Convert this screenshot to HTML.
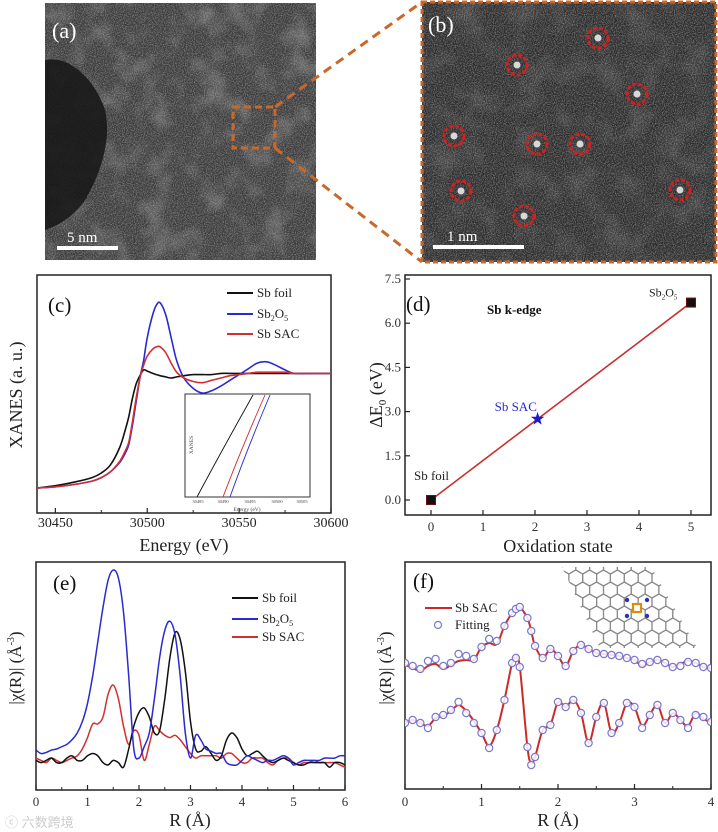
<!DOCTYPE html>
<html><head><meta charset="utf-8">
<style>
html,body{margin:0;padding:0;background:#fff;}
svg{display:block;font-family:"Liberation Serif",serif;}
</style></head>
<body>
<svg id="fig" width="718" height="832" viewBox="0 0 718 832" xmlns="http://www.w3.org/2000/svg">
<defs>
<filter id="noiseA" x="0" y="0" width="100%" height="100%">
<feTurbulence type="fractalNoise" baseFrequency="0.9" numOctaves="2" seed="3" result="n"/>
<feColorMatrix type="matrix" values="0 0 0 0 0.5  0 0 0 0 0.5  0 0 0 0 0.5  1.6 0 0 0 -0.6" in="n"/>
</filter>
<filter id="blobA" x="0" y="0" width="100%" height="100%">
<feTurbulence type="fractalNoise" baseFrequency="0.035" numOctaves="3" seed="7" result="n"/>
<feColorMatrix type="matrix" values="0 0 0 0 0.7  0 0 0 0 0.7  0 0 0 0 0.7  1.3 0 0 0 -0.6" in="n"/>
</filter>
<clipPath id="clipA"><rect x="45" y="3" width="271" height="257"/></clipPath>
<clipPath id="clipB"><rect x="422" y="2" width="294" height="260"/></clipPath>
<clipPath id="clipC"><rect x="37" y="275" width="294" height="238"/></clipPath>
<clipPath id="clipE"><rect x="36" y="562" width="309" height="228"/></clipPath>
<clipPath id="clipF"><rect x="405" y="562" width="306" height="227"/></clipPath>
<clipPath id="clipG"><polygon points="562,567 651,567 697,648 600,648"/></clipPath>
</defs>

<g clip-path="url(#clipA)">
<rect x="45" y="3" width="271" height="257" fill="#3a3a3a"/>
<rect x="45" y="3" width="271" height="257" filter="url(#blobA)" opacity="0.55"/>
<rect x="45" y="3" width="271" height="257" filter="url(#noiseA)" opacity="0.8"/>
<path d="M45,60 C70,55 95,80 105,110 C112,140 100,175 85,200 C75,215 60,225 45,230 Z" fill="#151515" opacity="0.85"/>
</g>
<text x="52" y="38" font-size="22" fill="#fff">(a)</text>
<rect x="57" y="246" width="61" height="4" fill="#fff"/>
<text x="67" y="242" font-size="15" fill="#fff">5 nm</text>
<rect x="233" y="107" width="42" height="41" fill="none" stroke="#c8692a" stroke-width="3" stroke-dasharray="7,4"/>
<line x1="275" y1="107" x2="422" y2="2" stroke="#c8692a" stroke-width="3" stroke-dasharray="9,6"/>
<line x1="275" y1="148" x2="422" y2="262" stroke="#c8692a" stroke-width="3" stroke-dasharray="9,6"/>

<g clip-path="url(#clipB)">
<rect x="422" y="2" width="294" height="260" fill="#2a2a2a"/>
<rect x="422" y="2" width="294" height="260" filter="url(#blobA)" opacity="0.3"/>
<rect x="422" y="2" width="294" height="260" filter="url(#noiseA)" opacity="0.8"/>
</g>
<g id="atoms"></g>
<rect x="422" y="2" width="294" height="260" fill="none" stroke="#c8692a" stroke-width="3" stroke-dasharray="5,3"/>
<text x="428" y="32" font-size="22" fill="#fff">(b)</text>
<rect x="433" y="245" width="91" height="4" fill="#fff"/>
<text x="447" y="241" font-size="15" fill="#fff">1 nm</text>

<g id="panelC"></g>
<g id="panelD"></g>
<g id="panelE"></g>
<g id="panelF"></g>
<text x="5" y="827" font-size="13" fill="#ccc" font-family="Liberation Sans, Noto Sans CJK SC, sans-serif">ⓒ 六数跨境</text>
</svg>
<script>
const atomX = [598,517,637,454,537,580,461,524,680];
const atomY = [38,65,94,136,144,144,191,216,190];

const xanesE = [30440,30450,30460,30470,30475,30480,30485,30488,30490,30492,30494,30496,30498,30500,30503,30505,30507,30510,30513,30516,30520,30525,30530,30535,30540,30545,30550,30555,30560,30565,30570,30575,30580,30590,30600];
const xanesFoil = [0,0.02,0.05,0.09,0.13,0.2,0.35,0.5,0.62,0.78,0.9,0.97,1.02,1.01,0.99,0.98,0.97,0.96,0.95,0.96,0.97,0.98,0.98,0.98,0.99,0.99,0.99,0.99,0.99,0.99,0.99,0.99,0.99,0.99,0.99];
const xanesOxide = [0,0.01,0.03,0.06,0.09,0.14,0.22,0.3,0.38,0.55,0.75,0.95,1.1,1.3,1.5,1.58,1.6,1.5,1.3,1.1,0.95,0.86,0.82,0.84,0.88,0.93,0.98,1.03,1.08,1.09,1.06,1.02,0.99,0.99,0.99];
const xanesSAC = [0,0.01,0.03,0.06,0.09,0.14,0.23,0.32,0.4,0.58,0.78,0.95,1.06,1.14,1.2,1.22,1.22,1.17,1.08,1.0,0.95,0.92,0.91,0.93,0.95,0.97,0.98,0.99,1.0,1.0,1.0,1.0,0.99,0.99,0.99];
const xanesTicks = [30450,30500,30550,30600];

const oxState = [0,2.05,5];
const dE0 = [0,2.75,6.7];
const dTicksY = [0,1.5,3.0,4.5,6.0,7.5];
const dTicksX = [0,1,2,3,4,5];

const ftR = [0,0.1,0.2,0.3,0.4,0.5,0.6,0.7,0.8,0.9,1.0,1.1,1.2,1.3,1.4,1.5,1.6,1.7,1.8,1.9,2.0,2.1,2.2,2.3,2.4,2.5,2.6,2.7,2.8,2.9,3.0,3.1,3.2,3.3,3.4,3.5,3.6,3.7,3.8,3.9,4.0,4.1,4.2,4.3,4.4,4.5,4.6,4.7,4.8,4.9,5.0,5.1,5.2,5.3,5.4,5.5,5.6,5.7,5.8,5.9,6.0];
const ftFoil = [1.3,1.2,1.3,1.4,1.2,1.2,1.4,1.5,1.3,1.3,1.5,1.6,1.5,1.2,1.1,1.3,1.2,1.0,1.8,2.8,3.4,3.6,3.2,2.5,2.6,4.0,5.8,6.9,6.6,5.2,3.0,1.8,1.7,1.9,1.6,1.3,1.5,2.2,2.5,2.3,1.8,1.5,1.6,1.7,1.5,1.3,1.2,1.3,1.4,1.3,1.2,1.1,1.1,1.2,1.2,1.2,1.2,1.0,1.2,1.2,1.1];
const ftOxide = [1.75,1.6,1.65,1.75,1.8,1.9,2.0,2.2,2.5,3.0,3.8,5.0,6.5,8.0,9.2,9.65,9.3,7.8,5.0,1.8,1.4,1.9,2.5,4.0,5.8,7.0,7.4,6.8,5.0,2.5,1.4,2.4,2.2,1.8,1.7,1.6,1.6,1.2,1.1,1.1,1.3,1.5,1.4,1.3,1.2,1.3,1.3,1.4,1.5,1.4,1.1,1.2,1.3,1.3,1.3,1.3,1.4,1.4,1.4,1.5,1.5];
const ftSAC = [1.4,1.3,1.2,1.4,1.3,1.2,1.3,1.4,1.5,1.8,2.3,2.9,2.9,3.2,4.2,4.6,4.0,2.8,2.0,2.6,2.4,1.3,2.0,2.8,2.6,2.4,2.3,2.4,2.2,1.9,1.6,1.4,1.5,1.5,1.5,1.5,1.4,1.6,1.6,1.4,1.2,1.2,1.4,1.4,1.4,1.2,1.1,1.3,1.4,1.4,1.2,1.1,1.2,1.2,1.3,1.2,1.2,1.2,1.2,1.1,1.0];
const ftTicks = [0,1,2,3,4,5,6];

const fitR = [0,0.1,0.2,0.3,0.4,0.5,0.6,0.7,0.8,0.9,1.0,1.1,1.2,1.3,1.4,1.45,1.5,1.6,1.65,1.7,1.8,1.9,2.0,2.1,2.2,2.3,2.4,2.5,2.6,2.7,2.8,2.9,3.0,3.1,3.2,3.3,3.4,3.5,3.6,3.7,3.8,3.9,4.0];
const magExp = [12.4,12.1,11.8,12.3,12.5,12.0,12.4,12.8,12.9,12.9,14.2,14.6,14.5,16.3,17.6,18.0,18.2,17.1,15.8,14.3,13.1,14.0,13.3,12.3,13.8,14.4,14.0,13.6,13.5,13.4,13.3,13.1,12.9,12.3,12.7,12.9,12.6,12.2,12.5,12.8,12.6,12.2,12.1];
const magFit = [12.6,12.3,12.0,12.8,13.0,12.3,12.6,13.5,13.3,13.0,14.2,15.0,14.8,16.3,17.6,18.0,18.2,17.1,15.8,14.3,13.1,14.0,13.3,12.3,13.8,14.4,14.0,13.6,13.5,13.4,13.3,13.1,12.9,12.5,12.7,12.9,12.6,12.2,12.3,12.7,12.6,12.2,12.1];
const reExp = [6.6,6.9,6.6,6.3,7.1,7.3,7.8,8.4,7.8,6.8,5.6,4.3,5.9,8.9,12.6,13.1,12.2,4.2,2.6,3.2,5.9,6.4,8.7,8.2,8.9,7.6,4.6,7.2,8.6,5.6,6.6,8.6,8.2,6.3,7.4,8.4,6.6,7.6,6.9,6.3,7.6,7.0,6.7];
const reFit = [6.6,6.9,6.6,6.1,7.2,7.4,7.9,8.7,7.6,6.6,5.6,4.1,5.9,8.9,12.6,13.1,12.2,4.2,2.4,3.2,5.9,6.4,8.7,8.2,8.9,7.6,4.6,7.2,8.6,5.6,6.6,8.6,8.2,6.1,7.4,8.4,6.6,7.6,6.9,6.1,7.4,7.2,6.7];
const fTicks = [0,1,2,3,4];

const NS = "http://www.w3.org/2000/svg";
function mk(tag, attrs, parent){
  const e = document.createElementNS(NS, tag);
  for (const k in attrs) e.setAttribute(k, attrs[k]);
  if (parent) parent.appendChild(e);
  return e;
}
function smooth(pts){
  let d = "M" + pts[0][0].toFixed(1) + "," + pts[0][1].toFixed(1);
  for (let i=0;i<pts.length-1;i++){
    const p0 = pts[i-1]||pts[i], p1=pts[i], p2=pts[i+1], p3=pts[i+2]||p2;
    const c1x = p1[0]+(p2[0]-p0[0])/6, c1y = p1[1]+(p2[1]-p0[1])/6;
    const c2x = p2[0]-(p3[0]-p1[0])/6, c2y = p2[1]-(p3[1]-p1[1])/6;
    d += " C"+c1x.toFixed(1)+","+c1y.toFixed(1)+" "+c2x.toFixed(1)+","+c2y.toFixed(1)+" "+p2[0].toFixed(1)+","+p2[1].toFixed(1);
  }
  return d;
}
function lin(d0,d1,r0,r1){ return v => r0 + (v-d0)/(d1-d0)*(r1-r0); }
function txt(parent, x, y, s, size, anchor, fill, weight){
  const t = mk("text", {x:x, y:y, "font-size":size, "text-anchor":anchor||"start", fill:fill||"#000"}, parent);
  if (weight) t.setAttribute("font-weight", weight);
  t.textContent = s;
  return t;
}

const atomsG = document.getElementById("atoms");
for (let i=0;i<atomX.length;i++){
  const c = mk("circle", {cx:atomX[i], cy:atomY[i], r:10, fill:"none", stroke:"#d02020", "stroke-width":3, "stroke-dasharray":"4,2"}, atomsG);
  
  
  const d = mk("circle", {cx:atomX[i], cy:atomY[i], r:3.5, fill:"#d8d8d8"}, atomsG);
  
  
}

(function(){
  const g = document.getElementById("panelC");
  const L=37,R=331,T=275,B=513;
  const xs = lin(30440,30600,L,R), ys = lin(0,1.84,488,T);
  const frame = mk("rect",{x:L,y:T,width:R-L,height:B-T,fill:"none",stroke:"#222","stroke-width":1.5},g);
  
  
  for (const v of xanesTicks){
    const tk = mk("line",{x1:xs(v),x2:xs(v),y1:B,y2:B-5,stroke:"#222","stroke-width":1.2},g);
    
    
    if (xs(v-25) > L){
      const m = mk("line",{x1:xs(v-25),x2:xs(v-25),y1:B,y2:B-3,stroke:"#222","stroke-width":1},g);
      
      
    }
    const t = txt(g, xs(v), 527, String(v), 14, "middle", "#222");
    
    
  }
  const xt = txt(g, 184, 551, "Energy (eV)", 18, "middle", "#222");
  
  
  const yt = txt(g, 0, 0, "XANES (a. u.)", 18, "middle", "#222");
  yt.setAttribute("transform","translate(22,395) rotate(-90)");
  
  
  const cg = mk("g",{"clip-path":"url(#clipC)"},g);
  const series = [[xanesFoil,"#111","sb-foil-line"],[xanesOxide,"#2a2ad0","sb2o5-line"],[xanesSAC,"#d03030","sb-sac-line"]];
  for (const s of series){
    const pts = xanesE.map((e,i)=>[xs(e), ys(s[0][i])]);
    const p = mk("path",{d:smooth(pts),fill:"none",stroke:s[1],"stroke-width":1.6},cg);
    
    
  }
  const lab = txt(g, 48, 312, "(c)", 21, "start", "#111");
  
  
  const leg = [["Sb foil","#111",297],["Sb2O5","#2a2ad0",318],["Sb SAC","#d03030",338]];
  for (const l of leg){
    const ln = mk("line",{x1:227,x2:253,y1:l[2]-4,y2:l[2]-4,stroke:l[1],"stroke-width":2},g);
    
    
    const t = mk("text",{x:257,y:l[2],"font-size":13,fill:"#222"},g);
    if (l[0]==="Sb2O5"){ t.innerHTML = 'Sb<tspan font-size="8" dy="3">2</tspan><tspan dy="-3">O</tspan><tspan font-size="8" dy="3">5</tspan>'; }
    else t.textContent = l[0];
    
    
  }
  const ig = mk("g",{},g);
  
  
  mk("rect",{x:185,y:394,width:125,height:103,fill:"#fff",stroke:"#333","stroke-width":1},ig);
  const insetLines = [[197,253,"#111"],[223,265,"#d03030"],[230,270,"#2a2ad0"]];
  for (const il of insetLines){
    const p = mk("path",{d:"M"+il[0]+",497 Q"+((il[0]+il[1])/2-4)+",452 "+il[1]+",395",fill:"none",stroke:il[2],"stroke-width":0.9},ig);
    
    
  }
  const itx = [[198,"30485"],[223,"30490"],[250,"30495"],[277,"30500"],[302,"30505"]];
  for (const it of itx) txt(ig, it[0], 503, it[1], 4.5, "middle", "#444");
  txt(ig, 247, 511, "Energy (eV)", 5.5, "middle", "#444");
  const ix = txt(ig, 0, 0, "XANES", 5.5, "middle", "#444");
  ix.setAttribute("transform","translate(193,445) rotate(-90)");
})();

(function(){
  const g = document.getElementById("panelD");
  const L=405,R=711,T=275,B=515;
  const xs = lin(0,5,431,691), ys = lin(0,7.5,500,279);
  const fr = mk("rect",{x:L,y:T,width:R-L,height:B-T,fill:"none",stroke:"#222","stroke-width":1.5},g);
  
  
  for (const v of dTicksY){
    const tk = mk("line",{x1:L,x2:L+5,y1:ys(v),y2:ys(v),stroke:"#222","stroke-width":1.2},g);
    
    
    const t = txt(g, L-4, ys(v)+4, v.toFixed(1), 13, "end", "#333");
    
    
  }
  for (const v of dTicksX){
    const tk = mk("line",{x1:xs(v),x2:xs(v),y1:B,y2:B-5,stroke:"#222","stroke-width":1.2},g);
    
    
    const t = txt(g, xs(v), 531, String(v), 13, "middle", "#333");
    
    
  }
  const xt = txt(g, 558, 552, "Oxidation state", 18, "middle", "#222");
  
  
  const yt = mk("text",{"font-size":18,"text-anchor":"middle",fill:"#222",transform:"translate(382,395) rotate(-90)"},g);
  yt.innerHTML = 'ΔE<tspan font-size="11" dy="4">0</tspan><tspan dy="-4"> (eV)</tspan>';
  
  
  const fit = mk("line",{x1:xs(oxState[0]),y1:ys(dE0[0]),x2:xs(oxState[2]),y2:ys(dE0[2]),stroke:"#c83030","stroke-width":1.6},g);
  
  
  for (let i=0;i<oxState.length;i++){
    const x=xs(oxState[i]), y=ys(dE0[i]);
    if (i===1){
      const pts=[]; for(let k=0;k<10;k++){const a=-Math.PI/2+k*Math.PI/5; const r=k%2?2.8:7; pts.push((x+r*Math.cos(a)).toFixed(1)+","+(y+r*Math.sin(a)).toFixed(1));}
      const s = mk("polygon",{points:pts.join(" "),fill:"#1a1ad0"},g);
      
      
    } else {
      const s = mk("rect",{x:x-4.5,y:y-4.5,width:9,height:9,fill:"#111",stroke:"#6a1010","stroke-width":1},g);
      
      
    }
  }
  const l1 = txt(g, xs(oxState[0])-17, ys(dE0[0])-20, "Sb foil", 13, "start", "#222");
   
  const l2 = txt(g, xs(oxState[1])-43, ys(dE0[1])-8, "Sb SAC", 13, "start", "#2a2ad0");
   
  const l3 = mk("text",{x:xs(oxState[2])-42,y:ys(dE0[2])-6,"font-size":12,fill:"#222"},g);
  l3.innerHTML = 'Sb<tspan font-size="7" dy="3">2</tspan><tspan dy="-3">O</tspan><tspan font-size="7" dy="3">5</tspan>';
   
  const kd = txt(g, 487, 314, "Sb k-edge", 13, "start", "#111", "bold");
   
  const lab = txt(g, 406, 311, "(d)", 21, "start", "#111");
   
})();

(function(){
  const g = document.getElementById("panelE");
  const L=36,R=345,T=562,B=790;
  const xs = lin(0,6,L,R), ys = lin(0,10,B,T);
  const fr = mk("rect",{x:L,y:T,width:R-L,height:B-T,fill:"none",stroke:"#222","stroke-width":1.5},g);
   
  for (const v of ftTicks){
    const tk = mk("line",{x1:xs(v),x2:xs(v),y1:B,y2:B-5,stroke:"#222","stroke-width":1.2},g);
     
    if (v<6){ const m = mk("line",{x1:xs(v+0.5),x2:xs(v+0.5),y1:B,y2:B-3,stroke:"#222"},g);
        }
    const t = txt(g, xs(v), 806, String(v), 13, "middle", "#333");
     
  }
  const xt = txt(g, 190, 826, "R (Å)", 18, "middle", "#222");
   
  const yt = mk("text",{"font-size":17,"text-anchor":"middle",fill:"#222",transform:"translate(21,668) rotate(-90)"},g);
  yt.innerHTML = '|χ(R)| (Å<tspan font-size="10" dy="-7">-3</tspan><tspan dy="7">)</tspan>';
   
  const cg = mk("g",{"clip-path":"url(#clipE)"},g);
  const series = [[ftSAC,"#d03030","sb-sac-line"],[ftFoil,"#111","sb-foil-line"],[ftOxide,"#2a2ad0","sb2o5-line"]];
  for (const s of series){
    const pts = ftR.map((r,i)=>[xs(r), ys(s[0][i])]);
    const p = mk("path",{d:smooth(pts),fill:"none",stroke:s[1],"stroke-width":1.5},cg);
     
  }
  const lab = txt(g, 53, 590, "(e)", 21, "start", "#111");
   
  const leg = [["Sb foil","#111",602],["Sb2O5","#2a2ad0",623],["Sb SAC","#d03030",641]];
  for (const l of leg){
    const ln = mk("line",{x1:232,x2:258,y1:l[2]-4,y2:l[2]-4,stroke:l[1],"stroke-width":2},g);
     
    const t = mk("text",{x:262,y:l[2],"font-size":13,fill:"#222"},g);
    if (l[0]==="Sb2O5") t.innerHTML = 'Sb<tspan font-size="8" dy="3">2</tspan><tspan dy="-3">O</tspan><tspan font-size="8" dy="3">5</tspan>';
    else t.textContent = l[0];
     
  }
})();

(function(){
  const g = document.getElementById("panelF");
  const L=405,R=711,T=562,B=789;
  const xs = lin(0,4,L,R), ys = lin(0,22.7,B,T);
  const fr = mk("rect",{x:L,y:T,width:R-L,height:B-T,fill:"none",stroke:"#222","stroke-width":1.5},g);
   
  for (const v of fTicks){
    const tk = mk("line",{x1:xs(v),x2:xs(v),y1:B,y2:B-5,stroke:"#222","stroke-width":1.2},g);
     
    if (v<4){ const m = mk("line",{x1:xs(v+0.5),x2:xs(v+0.5),y1:B,y2:B-3,stroke:"#222"},g);
        }
    const t = txt(g, xs(v), 806, String(v), 13, "middle", "#333");
     
  }
  const xt = txt(g, 558, 826, "R (Å)", 18, "middle", "#222");
   
  const yt = mk("text",{"font-size":17,"text-anchor":"middle",fill:"#222",transform:"translate(391,668) rotate(-90)"},g);
  yt.innerHTML = '|χ(R)| (Å<tspan font-size="10" dy="-7">-3</tspan><tspan dy="7">)</tspan>';
   
  const cg = mk("g",{"clip-path":"url(#clipF)"},g);
  const exps = [[magExp,"magnitude-exp-line"],[reExp,"real-part-exp-line"]];
  for (const s of exps){
    const pts = fitR.map((r,i)=>[xs(r), ys(s[0][i])]);
    const p = mk("path",{d:smooth(pts),fill:"none",stroke:"#cc2a2a","stroke-width":2},cg);
     
  }
  const fits = [[magFit,"magnitude-fit-point"],[reFit,"real-part-fit-point"]];
  for (const s of fits){
    for (let i=0;i<fitR.length;i++){
      const c = mk("circle",{cx:xs(fitR[i]),cy:ys(s[0][i]),r:3.6,fill:"#fff","fill-opacity":0.85,stroke:"#7878d0","stroke-width":1.2},cg);
      
      
    }
  }
  const lab = txt(g, 413, 588, "(f)", 21, "start", "#111");
   
  const ln = mk("line",{x1:425,x2:452,y1:608,y2:608,stroke:"#cc2a2a","stroke-width":2},g);
   
  const t1 = txt(g, 455, 612, "Sb SAC", 13, "start", "#222");
   
  const lc = mk("circle",{cx:438,cy:625,r:3.5,fill:"#fff",stroke:"#7878d0","stroke-width":1.2},g);
   
  const t2 = txt(g, 455, 629, "Fitting", 13, "start", "#222");
   
  const sg = mk("g",{"clip-path":"url(#clipG)"},g);
   
  const r = 8, w = Math.sqrt(3)*r;
  for (let row=-1; row<9; row++){
    for (let col=-2; col<14; col++){
      const cx = 555 + col*w + (row%2?w/2:0), cy = 566 + row*1.5*r;
      const pts=[]; for(let k=0;k<6;k++){const a=Math.PI/6+k*Math.PI/3; pts.push((cx+r*Math.cos(a)).toFixed(1)+","+(cy+r*Math.sin(a)).toFixed(1));}
      mk("polygon",{points:pts.join(" "),fill:"none",stroke:"#8a8a8a","stroke-width":1.2},sg);
    }
  }
  const dop = [[627,600],[647,600],[627,616],[647,616]];
  for (const d of dop){ const n = mk("circle",{cx:d[0],cy:d[1],r:2.2,fill:"#3030b0"},g);
      }
  const sb = mk("rect",{x:633,y:604,width:8,height:8,fill:"#fff",stroke:"#e08a10","stroke-width":2.2},g);
   
})();
</script>
</body></html>
